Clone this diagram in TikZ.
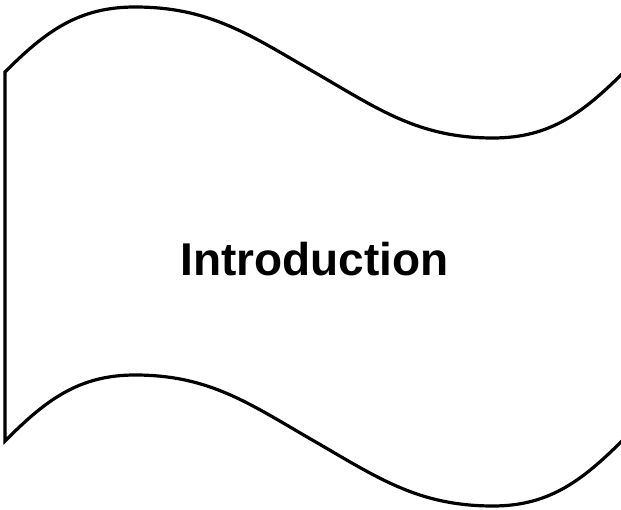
\documentclass[tikz,border=0pt]{standalone}
\usepackage{fontspec}
\setmainfont{Liberation Sans}
\begin{document}
\begin{tikzpicture}[x=1pt,y=-1pt,
  outline/.style={draw=black,line width=3.2pt,line join=miter,fill=white},
  label/.style={font=\bfseries\fontsize{46}{50}\selectfont,inner sep=0pt,anchor=base}]
\useasboundingbox (0,0) rectangle (621,510);
\begin{scope}
\clip (0,0) rectangle (621,510);
\draw[outline] (5,72) to[out=45,in=180] (135,7) to[out=0,in=150] (314,72)
  to[out=-30,in=180] (493,138) to[out=0,in=-135] (626,70)
  -- (626,437) to[out=-135,in=0] (493,506) to[out=180,in=-30] (314,441)
  to[out=150,in=0] (135,375) to[out=180,in=45] (5,441) -- cycle;
\end{scope}
\coordinate (c) at (314.5,276);
\node[label] (t) at (c) {Introduction};
\end{tikzpicture}
\end{document}
